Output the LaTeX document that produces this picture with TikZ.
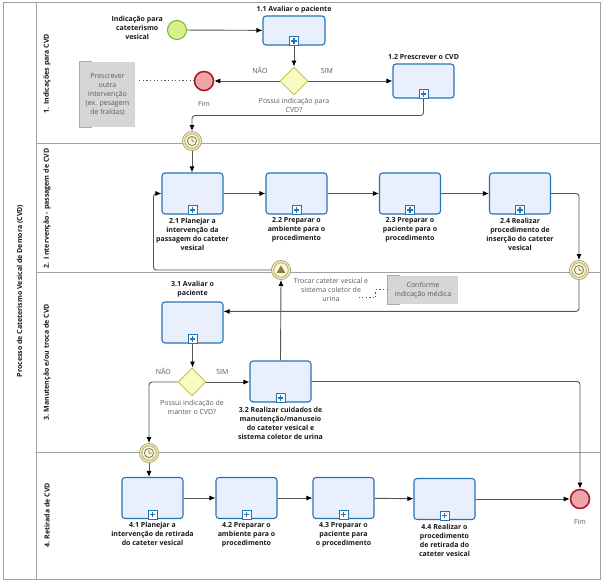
\documentclass[tikz,border=0pt]{standalone}
\usepackage{fontspec}
\setmainfont{Open Sans}
\setsansfont{Open Sans}
\usetikzlibrary{arrows.meta,positioning,calc,shapes.geometric}
\definecolor{taskblue}{RGB}{38,115,178}
\definecolor{taskfill}{RGB}{234,239,253}
\definecolor{gateline}{RGB}{200,195,70}
\definecolor{gatefill}{RGB}{250,250,195}
\definecolor{startline}{RGB}{120,180,40}
\definecolor{startfill}{RGB}{215,240,140}
\definecolor{endline}{RGB}{175,30,40}
\definecolor{endfill}{RGB}{238,165,170}
\definecolor{eventline}{RGB}{180,170,100}
\definecolor{eventfill}{RGB}{248,246,225}
\definecolor{eventdark}{RGB}{135,125,55}
\definecolor{lanegray}{RGB}{160,160,160}
\definecolor{flowgray}{RGB}{85,85,85}
\definecolor{annofill}{RGB}{214,214,214}
\definecolor{annoline}{RGB}{170,170,170}
\definecolor{notegray}{RGB}{90,90,90}
\definecolor{textdark}{RGB}{25,25,25}
\newcommand{\bpmnfont}{\fontsize{7}{9}\selectfont}
\tikzset{
  taskbox/.style={draw=taskblue, fill=taskfill, rounded corners=3pt, line width=1.1pt,
    minimum width=61pt, minimum height=41pt, inner sep=0pt},
  tasklabel/.style={font=\sffamily\bfseries\bpmnfont, text=textdark, align=center, inner sep=1pt},
  note/.style={font=\sffamily\bpmnfont, text=notegray, align=center, inner sep=1pt},
  annobox/.style={fill=annofill, font=\sffamily\bpmnfont, text=notegray, align=center, inner sep=0pt},
  annobracket/.style={draw=annoline, line width=1pt},
  gateway/.style={diamond, draw=gateline, fill=gatefill, line width=0.9pt, minimum size=28pt, inner sep=0pt},
  startevent/.style={circle, draw=startline, fill=startfill, line width=1pt, minimum size=19pt, inner sep=0pt},
  endevent/.style={circle, draw=endline, fill=endfill, line width=1.6pt, minimum size=19pt, inner sep=0pt},
  midevent/.style={circle, draw=eventline, fill=eventfill, line width=0.9pt, minimum size=19pt, inner sep=0pt},
  lanetitle/.style={font=\sffamily\bfseries\bpmnfont, text=textdark, rotate=90},
  laneline/.style={draw=lanegray, line width=1pt},
  flow/.style={-{Latex[length=6pt, width=5pt, color=black]}, line width=0.9pt, draw=flowgray, rounded corners=3pt},
  assoc/.style={draw=flowgray, line width=1pt, dash pattern=on 1.2pt off 2.4pt}
}

\begin{document}
\begin{tikzpicture}[x=1pt,y=1pt]
  \useasboundingbox (0,0) rectangle (605,-585);

  % pool and lanes
  \draw[laneline] (3,-3) rectangle (600,-579);
  \draw[laneline] (36,-3) -- (36,-579);
  \foreach \y in {144,273,452}
    \draw[laneline] (36,-\y) -- (600,-\y);
  \node[lanetitle] (pool) at (20,-291) {Processo de Cateterismo Vesical de Demora (CVD)};
  \node[lanetitle] (lane1) at (47,-73.5) {1. Indicações para CVD};
  \node[lanetitle] (lane2) at (47,-208.5) {2. I ntervenção - passagem de CVD};
  \node[lanetitle] (lane3) at (47,-362.5) {3. Manutenção e/ou troca de CVD};
  \node[lanetitle] (lane4) at (47,-515.5) {4. Retirada de CVD};

  % lane 1
  \node[startevent] (start) at (177,-30) {};
  \node[tasklabel, left=3pt of start, yshift=2pt] (startlabel) {Indicação para\\cateterismo\\vesical};
  \node[taskbox, minimum width=62pt, minimum height=29pt] (t11) at (294,-30.5) {};
  \node[tasklabel, above=1pt of t11] (t11label) {1.1 Avaliar o paciente};
  \node[gateway] (g1) at (294,-81) {};
  \node[note, below=2pt of g1] (g1label) {Possui indicação para\\CVD?};
  \node[endevent] (end1) at (204,-81) {};
  \node[note, below=9pt of end1] (end1label) {Fim};
  \node[taskbox, minimum height=34pt] (t12) at (423.5,-81) {};
  \node[tasklabel, above=3pt of t12] (t12label) {1.2 Prescrever o CVD};
  \node[annobox, minimum width=55pt, minimum height=65pt] (anno1) at (107.5,-94.5)
    {Prescrever\\outra\\intervenção\\(ex. pesagem\\de fraldas)};
  \node[midevent] (tm1) at (192,-141) {};

  % lane 2
  \node[taskbox] (t21) at (192.5,-193.5) {};
  \node[tasklabel, below=2pt of t21] (t21label) {2.1 Planejar a\\intervenção da\\passagem do cateter\\vesical};
  \node[taskbox] (t22) at (296.5,-193.5) {};
  \node[tasklabel, below=2pt of t22] (t22label) {2.2 Preparar o\\ambiente para o\\procedimento};
  \node[taskbox] (t23) at (410,-193.5) {};
  \node[tasklabel, below=2pt of t23] (t23label) {2.3 Preparar o\\paciente para o\\procedimento};
  \node[taskbox] (t24) at (520,-193.5) {};
  \node[tasklabel, below=2pt of t24] (t24label) {2.4 Realizar\\procedimento de\\inserção do cateter\\vesical};
  \node[midevent] (tm2) at (579,-270) {};
  \node[midevent] (sg) at (281,-270) {};
  \node[note] (sglabel) at (331,-290) {Trocar cateter vesical e\\sistema coletor de\\urina};
  \node[annobox, minimum width=70pt, minimum height=28pt] (anno2) at (423,-290)
    {Conforme\\indicação médica};

  % lane 3
  \node[taskbox] (t31) at (192.5,-322.5) {};
  \node[tasklabel, above=3pt of t31] (t31label) {3.1 Avaliar o\\paciente};
  \node[gateway] (g2) at (192,-382) {};
  \node[note, below=3pt of g2] (g2label) {Possui indicação de\\manter o CVD?};
  \node[taskbox] (t32) at (280.5,-381.5) {};
  \node[tasklabel, below=3pt of t32] (t32label) {3.2 Realizar cuidados de\\manutenção/manuseio\\do cateter vesical e\\sistema coletor de urina};
  \node[midevent] (tm3) at (149,-453) {};

  % lane 4
  \node[taskbox] (t41) at (152.5,-498) {};
  \node[tasklabel, below=2pt of t41] (t41label) {4.1 Planejar a\\intervenção de retirada\\do cateter vesical};
  \node[taskbox] (t42) at (246.5,-498) {};
  \node[tasklabel, below=2pt of t42] (t42label) {4.2 Preparar o\\ambiente para o\\procedimento};
  \node[taskbox] (t43) at (343.5,-498) {};
  \node[tasklabel, below=2pt of t43] (t43label) {4.3 Preparar o\\paciente para\\o procedimento};
  \node[taskbox] (t44) at (444.5,-499) {};
  \node[tasklabel, below=3pt of t44] (t44label) {4.4 Realizar o\\procedimento\\de retirada do\\cateter vesical};
  \node[endevent] (end2) at (580,-499) {};
  \node[note, below=9pt of end2] (end2label) {Fim};

  % markers
  \foreach \t in {t11,t12,t21,t22,t23,t24,t31,t32,t41,t42,t43,t44} {
    \draw[taskblue, fill=white, line width=0.8pt] ($(\t.south)+(-4.5,0)$) rectangle ($(\t.south)+(4.5,9)$);
    \draw[taskblue, line width=1.3pt] ($(\t.south)+(-2.6,4.5)$) -- ($(\t.south)+(2.6,4.5)$);
    \draw[taskblue, line width=1.3pt] ($(\t.south)+(0,1.9)$) -- ($(\t.south)+(0,7.1)$);
  }
  \foreach \e in {tm1,tm2,tm3,sg}
    \draw[eventline, line width=0.9pt] (\e.center) circle (7.3);
  \foreach \e in {tm1,tm2,tm3} {
    \draw[eventdark, line width=0.8pt] (\e.center) circle (4.6);
    \draw[eventdark, line width=0.8pt] ($(\e.center)+(0,3.2)$) -- (\e.center) -- ($(\e.center)+(2.4,-0.6)$);
  }
  \fill[eventdark] ($(sg.center)+(0,4.6)$) -- ($(sg.center)+(-4.4,-3)$) -- ($(sg.center)+(4.4,-3)$) -- cycle;
  \foreach \a in {anno1,anno2}
    \draw[annobracket] ($(\a.north west)+(12,0)$) -- (\a.north west) -- (\a.south west) -- ++(12,0);

  % flows
  \draw[flow] (start) -- (t11);
  \draw[flow] (t11) -- (g1);
  \draw[flow] (g1) -- node[note, above=6pt, pos=.3] {NÃO} (end1);
  \draw[flow] (g1) -- node[note, above=6pt, pos=.22] {SIM} (t12);
  \draw[flow] (t12.south) -- ++(0,-17) -| (tm1.north);
  \draw[assoc, shorten <=4pt] (anno1.east |- end1.west) -- (end1.west);

  \draw[flow] (tm1) -- (tm1.south |- t21.north);
  \draw[flow] (t21) -- (t22);
  \draw[flow] (t22) -- (t23);
  \draw[flow] (t23) -- (t24);
  \draw[flow] (t24.east) -| (tm2.north);
  \draw[flow] (sg.west) -| ($(t21.west)+(-8,0)$) -- (t21.west);
  \draw[assoc] (anno2.west) -- ++(-12,0) -- ++(0,-8) -- ++(-19,0);

  \draw[flow] (tm2.south) |- ($(t31.north east)+(0,-10)$);
  \draw[flow] (t31) -- (t31.south |- g2.north);
  \draw[flow] (g2.west) -| node[note, above=6pt, pos=.25] {NÃO} (tm3.north);
  \draw[flow] (g2.east) -- node[note, above=6pt, pos=.37] {SIM} (t32.west |- g2.east);
  \draw[flow] (t32.north) -- (sg.south);
  \draw[flow] (t32.east) -| (end2.north);

  \draw[flow] (tm3.south) -- (tm3.south |- t41.north);
  \draw[flow] (t41) -- (t42);
  \draw[flow] (t42) -- (t43);
  \draw[flow] (t43) -- (t44);
  \draw[flow] (t44) -- (end2);
\end{tikzpicture}
\end{document}
